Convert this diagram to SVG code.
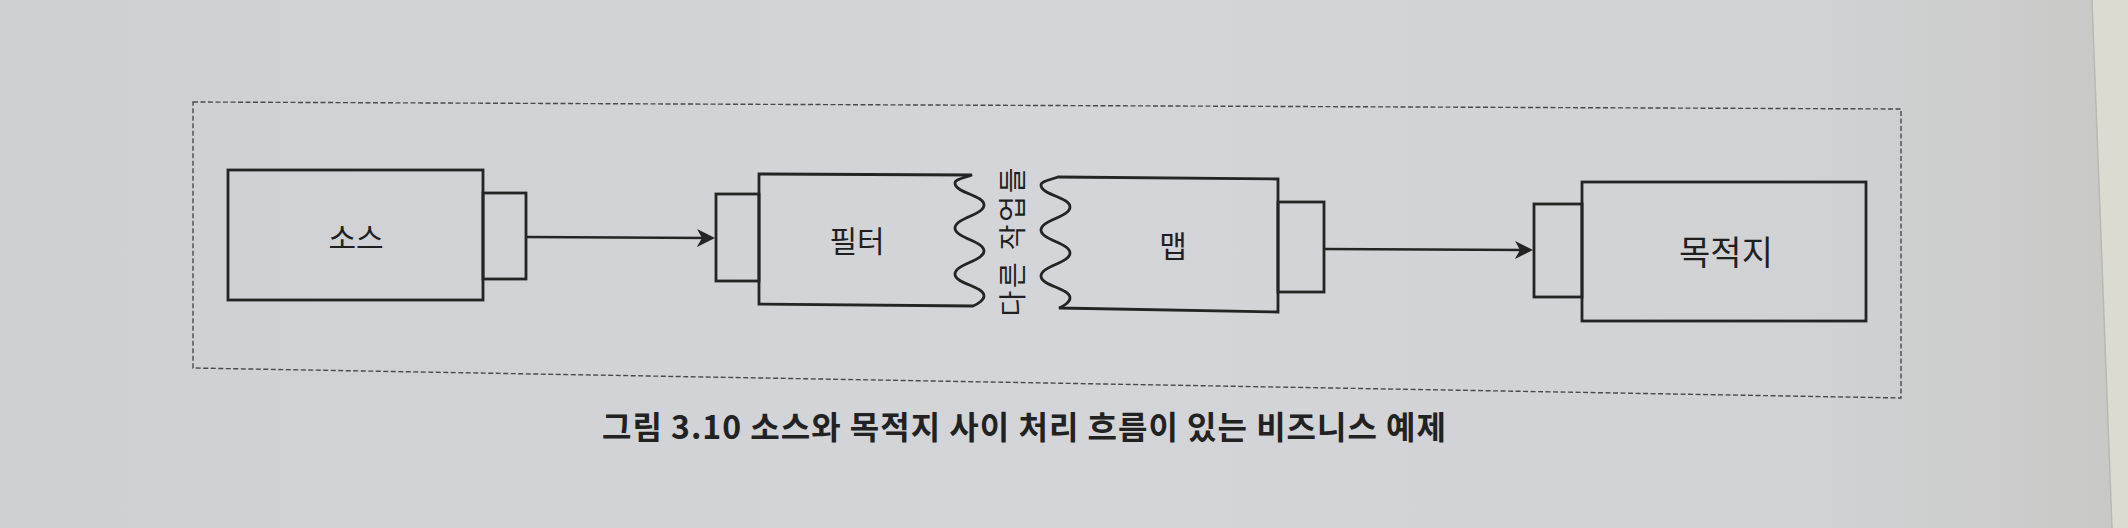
<svg xmlns="http://www.w3.org/2000/svg" width="2128" height="528" viewBox="0 0 2128 528">
  <style>
    .box { fill: none; stroke: #242424; stroke-width: 2.8; stroke-linejoin: miter; }
    .conn { fill: none; stroke: #242424; stroke-width: 2.5; }
    .frame { fill: none; stroke: #4a4a4a; stroke-width: 1.4; stroke-dasharray: 5 2.5; }
    .lbl { font-family: "Noto Sans CJK KR", "Noto Sans", sans-serif; font-size: 30px; fill: #1f1f1f; text-anchor: middle; }
    .cap { font-family: "Noto Sans CJK KR", "Noto Sans", sans-serif; font-size: 32px; font-weight: 700; fill: #222222; }
  </style>
  <defs>
    <linearGradient id="page" x1="0" y1="0" x2="1" y2="0">
      <stop offset="0" stop-color="#cfd0d4"/>
      <stop offset="0.5" stop-color="#d4d5d9"/>
      <stop offset="0.85" stop-color="#d1d2d4"/>
      <stop offset="1" stop-color="#c8c8c6"/>
    </linearGradient>
    <marker id="arrow" markerUnits="userSpaceOnUse" markerWidth="20" markerHeight="20" viewBox="0 0 20 20" refX="14" refY="10" orient="auto">
      <path d="M0,1 L18,10 L0,19 L5,10 Z" fill="#242424"/>
    </marker>
  </defs>

  <!-- page background -->
  <rect x="0" y="0" width="2128" height="528" fill="url(#page)"/>
  <polygon points="2092,0 2128,0 2128,528 2112,528" fill="#dbdbd2"/>
  <line x1="2092" y1="0" x2="2112" y2="528" stroke="#b9b9b0" stroke-width="1.5"/>

  <!-- dashed frame -->
  <polygon class="frame" points="193,102 1901,109 1901,398 193,368"/>

  <!-- connectors -->
  <g id="connectors">
    <line class="conn" x1="526" y1="237" x2="711" y2="238" marker-end="url(#arrow)"/>
    <line class="conn" x1="1324" y1="249" x2="1529" y2="250" marker-end="url(#arrow)"/>
  </g>

  <!-- source -->
  <g id="source">
    <rect class="box" x="228" y="170" width="255" height="130"/>
    <rect class="box" x="483" y="193" width="43" height="86"/>
    <text class="lbl" x="356" y="249">소스</text>
  </g>

  <!-- filter -->
  <g id="filter">
    <rect class="box" x="716" y="194" width="43" height="87"/>
    <path class="box" d="M759,174 L972,175 C964,178 955,179 955,183 C955,193 984,195 984,205 C984,215 955,218 955,228 C955,238 984,241 984,251 C984,261 955,264 955,274 C955,284 984,286 984,296 C984,300 978,304 973,306 L759,304 Z"/>
    <text class="lbl" x="857" y="252">필터</text>
  </g>

  <!-- other work label -->
  <g id="other-work">
    <text class="lbl" style="font-size:28px" transform="translate(1023,242) rotate(-90)" x="0" y="0" textLength="149" lengthAdjust="spacing">다른 작업들</text>
  </g>

  <!-- map -->
  <g id="map">
    <path class="box" d="M1278,179 L1058,177 C1050,180 1041,181 1041,185 C1041,195 1070,197 1070,207 C1070,217 1041,220 1041,230 C1041,240 1070,243 1070,253 C1070,263 1041,266 1041,276 C1041,286 1070,288 1070,298 C1070,302 1064,306 1059,308 L1278,312 Z"/>
    <rect class="box" x="1278" y="202" width="46" height="90"/>
    <text class="lbl" x="1173" y="257">맵</text>
  </g>

  <!-- destination -->
  <g id="destination">
    <rect class="box" x="1534" y="204" width="48" height="93"/>
    <rect class="box" x="1582" y="182" width="284" height="139"/>
    <text class="lbl" style="font-size:34px" x="1726" y="265">목적지</text>
  </g>

  <!-- caption -->
  <text class="cap" x="602" y="439" textLength="844" lengthAdjust="spacing">그림 3.10 소스와 목적지 사이 처리 흐름이 있는 비즈니스 예제</text>
</svg>
